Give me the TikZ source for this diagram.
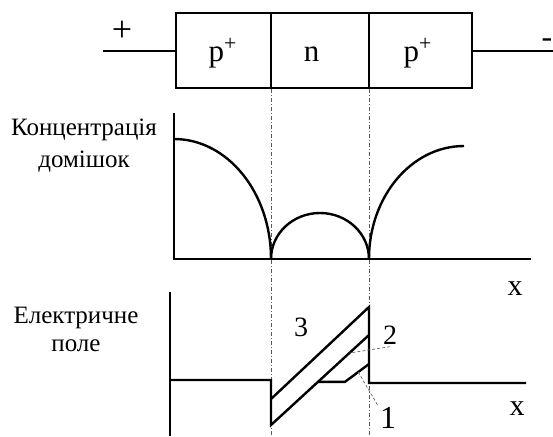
\documentclass[tikz,border=0pt]{standalone}
\usepackage{fontspec}
\setmainfont{Liberation Serif}
\usepackage{tikz}
\begin{document}
\begin{tikzpicture}[
    x=0.5pt, y=-0.5pt,
    font=\fontsize{12.5}{15}\selectfont,
    wire/.style={line width=1pt},
    curve/.style={line width=1.2pt, line join=miter},
    guide/.style={line width=0.4pt, black!65, dash pattern=on 2pt off 1pt on 0.5pt off 1pt},
    leader/.style={line width=0.35pt, black!60, dash pattern=on 1.5pt off 1pt},
    cell/.style={font=\fontsize{15.5}{18}\selectfont, anchor=base},
    axlbl/.style={font=\fontsize{15}{17}\selectfont, anchor=base},
    numlbl/.style={font=\fontsize{14}{16}\selectfont, inner sep=1pt},
    ylbl/.style={align=center},
  ]
  \useasboundingbox (0,0) rectangle (553,436);
  % junction x positions
  \def\xa{271} \def\xb{369}
  \coordinate (ja) at (\xa,0);
  \coordinate (jb) at (\xb,0);

  % --- p+ n p+ structure ---
  \node[draw, wire, minimum width=148pt, minimum height=37.5pt, inner sep=0pt] (diode) at (324,50.5) {};
  \draw[wire] (diode.north -| ja) -- (diode.south -| ja);
  \draw[wire] (diode.north -| jb) -- (diode.south -| jb);
  \coordinate (lead l) at (103,50.5);
  \coordinate (lead r) at (553,50.5);
  \draw[wire] (lead l) -- (diode.west);
  \draw[wire] (diode.east) -- (lead r);
  \node[font=\fontsize{18}{20}\selectfont] (plus) at (122,31) {+};
  \node[font=\fontsize{16}{18}\selectfont] (minus) at (547,43) {-};
  \node[cell] (pleft)  at (223,61)   {p\textsuperscript{+}};
  \node[cell] (nmid)   at (311.5,61) {n};
  \node[cell] (pright) at (418,61)   {p\textsuperscript{+}};

  % --- junction guides ---
  \draw[guide] (diode.south -| ja) -- (\xa,436);
  \draw[guide] (diode.south -| jb) -- (\xb,436);

  % --- impurity concentration ---
  \node[ylbl, font=\fontsize{12.5}{16}\selectfont] (conc) at (84,146) {Концентрація\\домішок};
  \coordinate (c0) at (174,259);
  \draw[curve] (174,113) -- (c0) -- (531,259);
  \draw[curve] (174,139) .. controls (227.6,139) and (\xa,192.7) .. (\xa,259);
  \draw[curve] (\xa,259) .. controls (\xa,233.6) and (292.9,213) .. (320,213)
               .. controls (347.1,213) and (\xb,233.6) .. (\xb,259);
  \draw[curve] (\xb,259) .. controls (\xb,196.6) and (411.5,146) .. (464,146);
  \node[axlbl] (xc) at (515,295) {x};

  % --- electric field ---
  \node[ylbl, font=\fontsize{12.5}{14}\selectfont] (field) at (76,329) {Електричне\\поле};
  \draw[curve] (170,292) -- (170,436);
  \draw[curve] (170,380) -- (\xa,380) -- (\xa,425) -- (\xb,335);
  \draw[curve] (\xa,399) -- (\xb,307) -- (\xb,383) -- (526,383);
  \path (\xa,425) -- (\xb,335) coordinate[pos=0.48] (k1) coordinate[pos=0.8] (k2);
  \draw[curve] (k1) -- ++(27,0) coordinate (k1b) -- (\xb,364);
  \path (k1b) -- (\xb,364) coordinate[pos=0.55] (k3);
  \node[numlbl] (lbl3) at (301,327.5) {3};
  \node[numlbl] (lbl2) at (390,335) {2};
  \node[numlbl, font=\fontsize{16}{18}\selectfont] (lbl1) at (388,418) {1};
  \draw[leader] (lbl2.south) -- (k2);
  \draw[leader] (k3) -- (lbl1.north west);
  \node[axlbl] (xf) at (517,415) {x};
\end{tikzpicture}
\end{document}
